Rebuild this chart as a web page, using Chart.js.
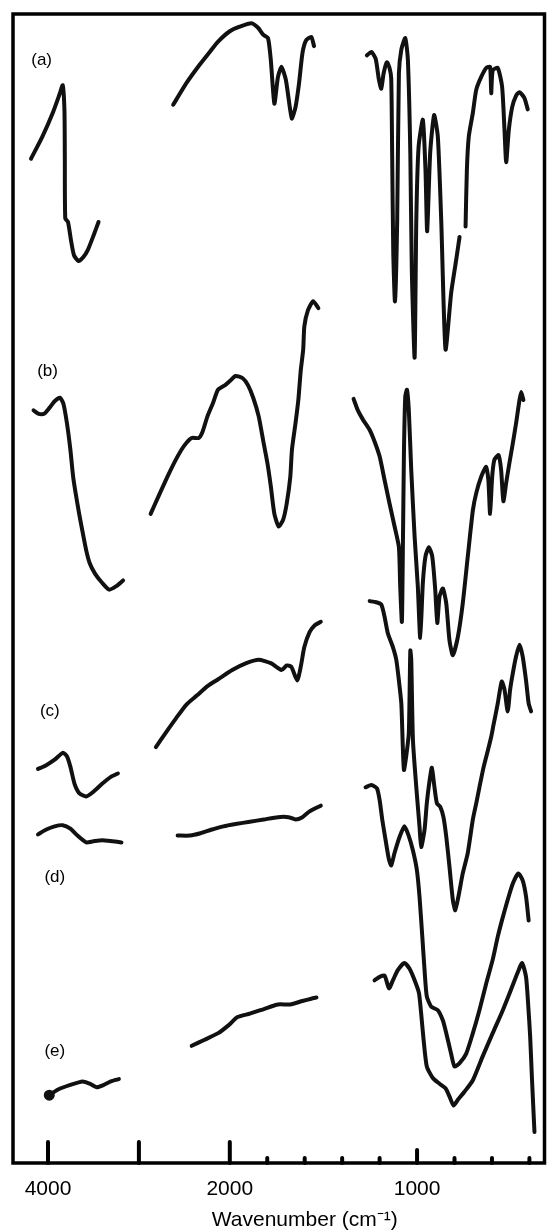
<!DOCTYPE html>
<html>
<head>
<meta charset="utf-8">
<title>IR spectra (a)-(e)</title>
<script src="https://cdn.jsdelivr.net/npm/chart.js@4.4.1/dist/chart.umd.min.js"></script>
<style>
  html, body { margin: 0; padding: 0; background: #fff; }
  #wrap { width: 552px; height: 1230px; }
</style>
</head>
<body>
<div id="wrap"><canvas id="spectra"></canvas></div>
<script>
// wavenumber (cm-1) and transmittance (arbitrary units, each trace offset); null = pen lifted
const aWn = [4187, 4063, 3947, 3869, 3838, 3819, 3815, 3810, 3780, 3747, 3714, 3665, 3615, 3560, 3500, 3444, null,
    2623, 2476, 2330, 2220, 2129, 2000, 1947, 1884, 1849, 1822, 1796, 1781, 1762, 1743, 1724, 1701, 1677, 1668, 1649, 1630, 1612, 1593, 1565, 1550, null,
    1268, 1244, 1221, 1204, 1191, 1179, 1161, 1147, 1138, 1133, 1127, 1118, 1106, 1097, 1084, 1063, 1049, 1036, 1028, 1013, 1004, 992, 969, 955, 946, 930, 909, 889, 871, 848, 818, 791, 773, null,
    741, 734, 724, 702, 684, 658, 631, 610, 604, 596, 569, 546, 533, 524, 510, 492, 471, 453, 427, 409];
const aT = [87.4, 89.3, 91.4, 93.1, 93.8, 91.6, 87.7, 82.2, 81.9, 80.3, 79.0, 78.5, 78.8, 79.5, 80.7, 81.9, null,
    92.1, 94.0, 95.6, 96.7, 97.6, 98.5, 98.9, 99.2, 98.8, 98.2, 97.9, 96.0, 92.2, 94.5, 95.4, 94.3, 91.6, 90.9, 91.9, 94.0, 96.6, 97.7, 98.0, 97.2, null,
    96.4, 96.7, 96.1, 94.3, 93.5, 94.8, 95.8, 95.3, 94.4, 87.9, 79.2, 75.0, 82.1, 94.8, 96.9, 97.9, 96.0, 87.9, 77.7, 70.1, 82.1, 88.4, 90.8, 86.4, 81.1, 87.9, 91.2, 89.3, 82.1, 70.8, 75.7, 78.6, 80.6, null,
    81.5, 86.4, 89.3, 91.4, 93.4, 94.5, 95.3, 95.4, 93.1, 95.1, 95.3, 93.7, 89.9, 87.1, 89.9, 91.9, 92.9, 93.2, 92.7, 91.7];

const bWn = [4159, 4102, 4044, 3986, 3927, 3869, 3831, 3792, 3754, 3723, 3696, 3657, 3619, 3579, 3541, 3483, 3405, 3327, 3250, 3174, null,
    2871, 2786, 2670, 2574, 2495, 2419, 2342, 2302, 2245, 2187, 2129, 2051, 1997, 1969, 1931, 1903, 1875, 1846, 1822, 1799, 1781, 1762, 1739, 1715, 1696, 1677, 1668, 1649, 1634, 1621, 1608, 1602, 1583, 1555, 1527, null,
    1339, 1316, 1289, 1253, 1227, 1200, 1173, 1147, 1120, 1097, 1090, 1081, 1076, 1070, 1063, 1054, 1044, 1031, 1013, 996, 983, 969, 955, 937, 919, 903, 892, 880, 862, 844, 827, 809, 782, 756, 729, 702, 684, 658, 631, 619, 610, 599, 587, 565, 551, 539, 524, 507, 489, 471, 453, 444, 432];
const bT = [65.5, 65.2, 65.2, 65.7, 66.3, 66.6, 66.1, 64.4, 62.1, 59.7, 58.3, 56.5, 54.9, 53.3, 52.2, 51.3, 50.5, 49.9, 50.2, 50.7, null,
    56.5, 58.0, 60.0, 61.5, 62.5, 63.1, 63.1, 63.6, 65.0, 66.1, 67.3, 67.7, 68.1, 68.5, 68.3, 67.7, 66.6, 65.0, 62.9, 60.9, 58.9, 56.5, 55.4, 56.0, 57.4, 59.7, 62.1, 64.4, 66.4, 69.0, 70.8, 72.8, 74.2, 75.0, 74.4, null,
    66.5, 65.5, 64.7, 63.8, 62.8, 61.5, 59.4, 57.4, 55.4, 53.6, 50.2, 47.1, 53.1, 61.8, 66.7, 67.3, 65.5, 60.3, 54.5, 50.2, 45.7, 50.5, 52.8, 53.6, 52.8, 49.9, 47.0, 49.3, 50.0, 48.7, 45.5, 44.2, 45.8, 48.7, 52.8, 56.8, 58.3, 59.7, 60.6, 59.4, 56.5, 59.7, 61.2, 61.6, 60.3, 57.6, 59.2, 60.9, 62.6, 64.4, 66.4, 67.1, 66.4];

const cWn = [4110, 4024, 3927, 3838, 3792, 3754, 3708, 3657, 3579, 3502, 3405, 3309, 3231, null,
    2813, 2709, 2592, 2477, 2360, 2245, 2128, 1987, 1912, 1846, 1781, 1724, 1696, 1672, 1640, 1621, 1602, 1574, 1546, 1514, null,
    1253, 1218, 1191, 1173, 1156, 1129, 1111, 1097, 1084, 1076, 1070, 1058, 1044, 1036, 1031, 1022, 1004, 987, 978, 960, 948, 933, 921, 907, 894, 876, 859, 844, 827, 809, 796, 779, 756, 729, 702, 684, 667, 644, 622, 604, 592, 569, 548, 533, 516, 503, 489, 471, 453, 436, 418, 404, 391];
const cT = [34.3, 34.6, 35.1, 35.7, 35.4, 34.5, 33.0, 32.2, 31.9, 32.3, 33.0, 33.6, 33.9, null,
    36.2, 37.4, 38.7, 39.9, 40.7, 41.5, 42.1, 42.9, 43.5, 43.8, 43.5, 42.9, 43.3, 43.2, 42.0, 43.2, 44.9, 46.2, 46.8, 47.1, null,
    48.9, 48.8, 48.6, 47.5, 46.1, 44.9, 43.8, 42.0, 40.0, 36.2, 34.2, 35.4, 37.4, 44.6, 43.8, 36.8, 32.7, 29.3, 27.5, 29.0, 31.3, 33.3, 34.4, 32.7, 31.3, 31.0, 30.1, 28.4, 25.8, 22.9, 22.0, 23.2, 25.2, 27.0, 29.9, 31.3, 32.7, 34.5, 35.9, 37.1, 38.1, 40.0, 41.9, 41.2, 39.3, 41.2, 42.6, 44.1, 45.1, 44.1, 42.0, 40.0, 39.3];

const dWn = [4110, 4024, 3927, 3838, 3754, 3676, 3579, 3502, 3405, 3289, 3192, null,
    2574, 2438, 2322, 2205, 2070, 1969, 1893, 1818, 1743, 1687, 1649, 1612, 1574, 1514, null,
    1275, 1244, 1214, 1200, 1186, 1168, 1150, 1138, 1120, 1093, 1067, 1045, 1022, 1001, 987, 972, 960, 948, 924, 889, 862, 844, 818, 800, 773, 738, 702, 667, 631, 596, 569, 542, 516, 489, 459, 436, 418, 404];
const dT = [28.6, 29.0, 29.3, 29.4, 29.1, 28.5, 27.9, 28.0, 28.1, 28.0, 27.9, null,
    28.5, 28.5, 28.7, 29.0, 29.3, 29.5, 29.7, 29.9, 30.1, 30.1, 29.9, 30.1, 30.6, 31.1, null,
    32.7, 32.9, 32.6, 31.6, 29.9, 28.1, 26.4, 25.9, 27.0, 28.4, 29.3, 28.5, 27.2, 25.5, 23.2, 19.7, 16.8, 14.5, 13.6, 13.3, 12.4, 11.3, 9.5, 8.4, 8.7, 9.5, 11.3, 13.3, 15.6, 17.7, 19.7, 21.4, 22.9, 24.3, 25.2, 24.6, 23.2, 21.1];

const eWn = [3986, 3889, 3754, 3619, 3541, 3464, 3386, 3309, 3220, null,
    2419, 2283, 2128, 2012, 1959, 1893, 1818, 1743, 1677, 1612, 1565, 1537, null,
    1227, 1200, 1173, 1150, 1129, 1102, 1067, 1040, 1013, 990, 978, 965, 948, 916, 880, 848, 827, 805, 782, 747, 702, 649, 596, 542, 498, 462, 439, 418, 407, 396, 386, 373];
const eT = [5.9, 6.4, 6.8, 7.1, 6.9, 6.6, 6.8, 7.1, 7.3, null,
    10.2, 10.7, 11.3, 12.0, 12.7, 13.0, 13.4, 13.8, 13.8, 14.1, 14.3, 14.4, null,
    15.9, 16.2, 16.3, 15.2, 15.9, 16.8, 17.4, 16.9, 15.9, 14.8, 13.0, 10.7, 8.4, 7.4, 6.9, 6.5, 5.8, 5.0, 5.5, 6.2, 7.2, 9.3, 11.3, 13.3, 15.1, 16.6, 17.4, 16.2, 13.9, 11.0, 7.2, 2.7];

const tickWn = [4000, 3000, 2000, 1800, 1600, 1400, 1200, 1000, 800, 600, 400];
const labelWn = [4000, 2000, 1000];
const traceNames = ['(a)', '(b)', '(c)', '(d)', '(e)'];
const traceNameWn = [4070, 4005, 3980, 3925, 3925];
const traceNameT = [96.0, 68.9, 39.3, 24.9, 9.7];

// chart paper is expanded about 2x below 2000 cm-1
function toU(wn) {
    return wn >= 2000 ? 4000 - wn : 2000 + 2.06 * (2000 - wn);
}

function toPoints(wn, t) {
    return wn.map((w, i) => ({ x: toU(w === null ? wn[i - 1] : w), y: t[i] }));
}

const font = '"Liberation Sans", Arial, Helvetica, sans-serif';
Chart.defaults.font.family = font;
Chart.defaults.color = '#000';

const paper = {
    id: 'paper',
    afterDraw(chart) {
        const { ctx, chartArea: a, scales: { x, y } } = chart;
        ctx.save();
        ctx.strokeStyle = '#000';
        ctx.lineWidth = 3.5;
        ctx.strokeRect(a.left, a.top, a.right - a.left, a.bottom - a.top);

        // tick marks stand up from the axis
        ctx.lineCap = 'round';
        ctx.lineWidth = 4;
        tickWn.forEach(w => {
            const px = x.getPixelForValue(toU(w));
            const len = w >= 2000 ? 21 : (w === 1000 ? 13 : 5);
            ctx.beginPath();
            ctx.moveTo(px, a.bottom);
            ctx.lineTo(px, a.bottom - len);
            ctx.stroke();
        });

        ctx.fillStyle = '#000';
        ctx.textAlign = 'center';
        ctx.textBaseline = 'middle';
        ctx.font = '17px ' + font;
        traceNames.forEach((n, i) => {
            ctx.fillText(n, x.getPixelForValue(toU(traceNameWn[i])), y.getPixelForValue(traceNameT[i]));
        });

        // axis title sits a bit right of centre on the original
        ctx.font = '21px ' + font;
        ctx.fillText('Wavenumber (cm\u207B\u00B9)', (a.left + a.right) / 2 + 26, a.bottom + 57);
        ctx.restore();
    }
};

const traces = [[aWn, aT], [bWn, bT], [cWn, cT], [dWn, dT], [eWn, eT]];

new Chart(document.getElementById('spectra'), {
    type: 'line',
    data: {
        datasets: traces.map(([wn, t], k) => ({
            label: traceNames[k],
            data: toPoints(wn, t),
            borderColor: '#111',
            backgroundColor: '#111',
            borderWidth: 4,
            borderJoinStyle: 'round',
            borderCapStyle: 'round',
            tension: 0.2,
            pointRadius: wn.map((w, i) => (k === 4 && i === 0 ? 3.5 : 0)),
            pointHoverRadius: 0,
            fill: false
        }))
    },
    plugins: [paper],
    options: {
        responsive: true,
        maintainAspectRatio: false,
        animation: false,
        events: [],
        layout: { padding: { left: 13, right: 7, top: 14, bottom: 0 } },
        plugins: {
            legend: { display: false },
            tooltip: { enabled: false }
        },
        scales: {
            x: {
                type: 'linear',
                min: -385,
                max: 5462,
                grid: { display: false, drawTicks: false },
                border: { display: false },
                afterBuildTicks: s => { s.ticks = labelWn.map(w => ({ value: toU(w) })); },
                afterFit: s => { s.height = 67; },
                ticks: {
                    autoSkip: false,
                    maxRotation: 0,
                    padding: 14,
                    color: '#000',
                    font: { size: 21 },
                    callback: (v, i) => labelWn[i]
                }
            },
            y: {
                min: 0,
                max: 100,
                display: false
            }
        }
    }
});
</script>
</body>
</html>
